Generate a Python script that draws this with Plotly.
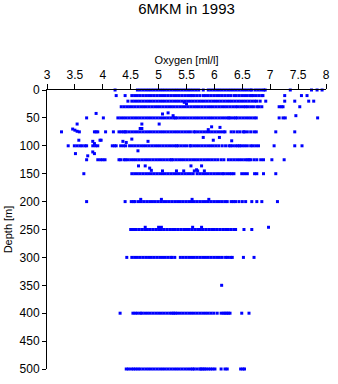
import plotly.graph_objects as go

title_text = "6MKM in 1993"
x_title = "Oxygen [ml/l]"
y_title = "Depth [m]"

# Oxygen values read per standard depth level
d0 = [4.22, 4.62,4.67,4.72,4.77,4.82,4.87,4.92,4.97,5.02,5.07,5.12,5.17,5.22,5.27,5.32,5.37,5.42,
      5.47,5.52,5.57,5.62,5.67,5.72, 5.80, 5.89,5.94,5.99,6.04,6.09,6.14,6.19,6.24,6.29,6.34,6.39,
      6.44,6.49,6.54,6.59,6.64,6.67, 6.73,6.78,6.83,6.88,6.91, 7.36,7.74,7.84,7.93]
d10 = [4.24,4.40, 4.52,4.57,4.62,4.67,4.72,4.77,4.82,4.87,4.92,4.97,5.02,5.07,5.12,5.17,5.22,5.27,
       5.32,5.37,5.42,5.47,5.52,5.57,5.60, 5.64,5.69,5.74,5.80, 5.84,5.89,5.94,5.99,6.04,6.09,6.14,
       6.19,6.24,6.29,6.35, 6.39,6.44,6.49,6.54,6.59,6.64,6.67, 6.70,6.75,6.80,6.85,6.87, 7.26,7.56,7.66]
d20 = [4.45, 4.52,4.57,4.62,4.67,4.72,4.77,4.82,4.87,4.92,4.97,5.02,5.07,5.12,5.17,5.22,5.27,5.32,
       5.37,5.42,5.47,5.52,5.57,5.62,5.67,5.72,5.77,5.82,5.87,5.92,5.97,6.02,6.07,6.12,6.17,6.22,
       6.27,6.32,6.37,6.42,6.47,6.52,6.57,6.62,6.67,6.72,6.76, 6.82,6.92,7.26,7.44,7.69,7.78]
d30 = [4.33,4.38,4.43,4.48,4.53,4.58,4.63,4.68,4.73,4.78,4.83,4.88,4.93,4.98,5.03,5.08,5.13,5.18,
       5.23,5.28,5.33,5.38,5.43,5.48,5.53,5.58,5.63,5.68,5.73,5.78,5.83,5.88,5.93,5.98,6.03,6.08,
       6.13,6.18,6.23,6.28,6.33,6.38, 6.42,6.47,6.52,6.56, 6.60,6.65,6.70,6.76, 6.80,6.85,
       7.16,7.20,7.23, 7.53]
d50 = [3.71,4.01, 4.27,4.32,4.37,4.42,4.47,4.52,4.57,4.62,4.67,4.72,4.77,4.82,4.87,4.92,4.97,5.02,
       5.07,5.12,5.17,5.22,5.27,5.30, 5.33,5.38,5.43,5.48,5.53,5.58,5.63,5.68,5.73,5.78,5.83,5.88,
       5.93,5.98,6.03,6.08,6.13,6.18,6.23,6.26, 6.29,6.34,6.38, 6.41,6.46,6.51,6.56,6.61,6.66,6.71,
       6.75, 7.16,7.23,7.27, 7.85]
d75 = [3.26,3.58,3.85,3.88,3.91,4.05,4.19, 4.29,4.33,4.37,4.40, 4.42,4.47,4.52,4.57,4.62,4.67,4.72,
       4.77,4.82,4.87,4.92,4.97,5.02,5.07,5.12,5.17,5.22,5.27,5.32,5.37,5.42,5.47,5.52,5.57,5.63,
       5.66,5.71,5.76,5.81,5.86,5.91,5.96,6.01,6.06,6.11,6.16,6.19, 6.30,6.35, 6.41,6.46,6.52,
       6.54,6.59,6.65, 6.71,6.75, 7.10,7.44]
d100 = [3.38, 3.49,3.54,3.59,3.63, 3.68,3.71, 3.82,3.87, 3.91, 4.17,4.21,4.24, 4.32,4.37,4.41,
        4.48,4.53,4.58,4.63,4.68,4.73,4.78,4.83,4.88,4.93,4.98,5.03,5.08,5.13,5.18,5.23,5.28,5.32,
        5.35,5.40,5.45,5.50,5.56, 5.58,5.63,5.68,5.73,5.78,5.83,5.88,5.93,5.98,6.03,6.08,6.14,
        6.20,6.26, 6.29,6.33, 6.38,6.42,6.45, 6.49,6.54,6.59,6.65, 6.69,6.74,6.79, 7.07,7.44,7.57]
d125 = [3.71, 3.91,3.96,4.00,4.04, 4.29,4.32, 4.38,4.41, 4.45,4.50,4.55,4.60,4.65,4.70,4.75,4.80,
        4.85,4.90,4.95,5.00,5.05,5.10,5.15,5.20,5.23, 5.26,5.31,5.36,5.41,5.46,5.51,5.56,5.61,5.66,
        5.71,5.76,5.81,5.86,5.91,5.96,6.01,6.06, 6.12,6.17, 6.25,6.30,6.35,6.40,6.45, 6.50,6.55,6.59,
        6.62,6.65, 6.71,6.76, 6.83,6.88, 7.03,7.25]
d150 = [3.66, 4.52,4.57,4.62,4.67,4.72,4.77,4.82,4.87,4.92,4.97,5.02,5.07,5.12,5.17,5.22,5.27,5.32,
        5.37,5.42,5.47,5.52,5.57,5.62, 5.69,5.74,5.79,5.84,5.89,5.94,5.99,6.04,6.09,6.14,6.17,
        6.22,6.27,6.31,6.35, 6.49,6.54,6.59, 6.72,6.76, 6.88, 7.10]
d200 = [3.71, 4.40, 4.51,4.55,4.58, 4.64,4.69,4.74,4.79,4.84,4.89,4.94,4.99,5.04,5.09,5.14,5.19,5.24,
        5.29,5.34,5.39,5.44,5.49,5.54,5.59,5.64,5.69,5.74,5.79,5.84,5.89,5.94, 5.99,6.04,6.09,6.14,
        6.19,6.23, 6.30,6.34,6.38, 6.44,6.50,6.56, 6.67,6.76,6.85, 7.13]
d250 = [4.50,4.55,4.60,4.65,4.70,4.75,4.80,4.85,4.90,4.95,5.00,5.05,5.10,5.15,5.20,5.25,5.30,5.35,
        5.40,5.45,5.50,5.55,5.60,5.65,5.70,5.75,5.80,5.85,5.90,5.95,6.00,6.05,6.10,6.15,6.20,6.25,
        6.30,6.35,6.38, 6.53, 6.67]
d300 = [4.43, 4.52,4.57,4.62,4.67,4.72,4.77,4.82,4.87,4.92,4.97,5.02,5.07,5.12,5.17,5.22,5.24, 5.29,
        5.39,5.44,5.49,5.54,5.59,5.64,5.69,5.74,5.79,5.84,5.89,5.94,5.99,6.04,6.09,6.14,6.20,6.24,
        6.29,6.32, 6.52,6.71]
d350 = [6.13]
d400 = [4.31, 4.54,4.58,4.62,4.67, 4.70,4.75,4.80,4.85,4.90,4.95,5.00,5.05,5.10,5.15,5.20,
        5.24,5.27,5.30, 5.34,5.39,5.44,5.49,5.54,5.59,5.64,5.69,5.74,5.79,5.84,5.89,5.94,5.99,6.05,
        6.12,6.16,6.19, 6.22,6.25,6.28, 6.49,6.62]
d500 = [4.42,4.46,4.51, 4.55,4.59,4.63, 4.67,4.72,4.77,4.82,4.87,4.92,4.97,5.02,5.07,5.12,5.17,5.22,
        5.27,5.32,5.37,5.42,5.47,5.52,5.57,5.61, 5.64,5.69,5.74,5.76, 5.79,5.82,5.85, 5.89,5.93,5.97,
        6.01, 6.12, 6.19,6.23, 6.47,6.51,6.54]

levels = [0, 10, 20, 30, 50, 75, 100, 125, 150, 200, 250, 300, 350, 400, 500]
level_values = [d0, d10, d20, d30, d50, d75, d100, d125, d150, d200, d250, d300, d350, d400, d500]

# Scattered samples at intermediate depths
extra_oxygen = [5.46, 5.50,
                3.88, 5.07, 5.17, 5.26, 7.46,
                3.54, 4.70, 5.01, 4.67, 4.70, 5.95, 6.10, 3.46, 3.50, 3.54, 5.89,
                3.57, 3.82, 3.95, 4.36, 4.52, 4.81, 5.80, 5.98, 6.09, 6.31, 3.85, 3.97, 4.42,
                3.51, 3.73, 3.82, 3.85, 4.63,
                4.64, 4.76, 4.84, 4.87, 5.07, 5.32, 5.45, 5.58, 5.64, 5.68, 5.70, 5.77, 5.82,
                4.68, 5.05, 5.60, 5.90,
                4.76, 5.00, 5.05, 5.61, 5.77, 6.97]
extra_depth = [22, 25,
               42, 43, 41, 46, 46,
               61, 61, 61, 69, 69, 66, 67, 70, 72, 74, 71,
               90, 92, 90, 92, 88, 92, 85, 90, 85, 91, 96, 90, 94,
               114, 118, 111, 114, 109,
               136, 136, 140, 144, 145, 145, 145, 136, 145, 143, 145, 136, 145,
               196, 196, 196, 196,
               246, 246, 246, 246, 246, 246]

xs, ys = [], []
for dep, vals in zip(levels, level_values):
    xs.extend(vals)
    ys.extend([dep] * len(vals))
xs.extend(extra_oxygen)
ys.extend(extra_depth)

FONT = "Liberation Sans, Arial, sans-serif"

fig = go.Figure()
fig.add_trace(go.Scatter(
    x=xs, y=ys, mode="markers",
    marker=dict(symbol="square", size=3, color="#0000ff", line=dict(width=0)),
    cliponaxis=False, hoverinfo="x+y", showlegend=False,
))

fig.update_layout(
    width=338, height=384,
    margin=dict(l=47, r=8, t=90, b=9),
    paper_bgcolor="white", plot_bgcolor="white",
    font=dict(family=FONT, color="black", size=11),
    title=dict(text=title_text, x=0.5, xref="paper", xanchor="center",
               y=1 - 9 / 384, yref="container", yanchor="middle",
               font=dict(size=15, family=FONT, color="black")),
    xaxis=dict(
        side="top", range=[3, 8], tick0=3, dtick=0.5,
        ticks="outside", ticklen=5, tickwidth=1, tickcolor="black",
        showline=True, linecolor="black", linewidth=1,
        showgrid=False, zeroline=False,
        tickfont=dict(size=12),
        title=dict(text=x_title, font=dict(size=11), standoff=1),
    ),
    yaxis=dict(
        range=[500, 0], tick0=0, dtick=50,
        ticks="outside", ticklen=4, tickwidth=1, tickcolor="black",
        showline=True, linecolor="black", linewidth=1,
        showgrid=False, zeroline=False,
        tickfont=dict(size=12),
        title=dict(text=y_title, font=dict(size=11), standoff=4),
    ),
)

fig.write_html("out.html")
